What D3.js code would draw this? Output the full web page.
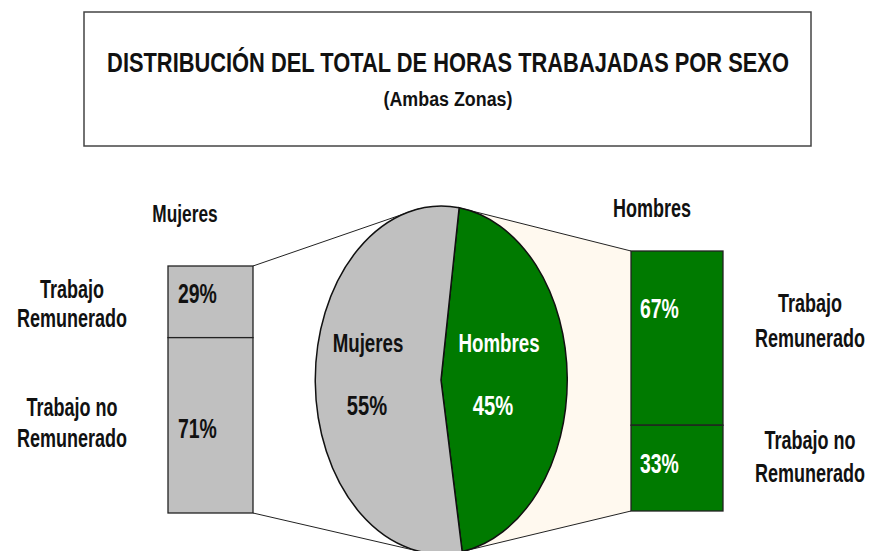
<!DOCTYPE html>
<html>
<head>
<meta charset="utf-8">
<script src="https://cdn.jsdelivr.net/npm/d3@7"></script>
<style>
  body { margin: 0; background: #fff; }
  svg text { font-family: "Liberation Sans", Arial, sans-serif; font-weight: bold; }
</style>
</head>
<body>
<svg width="870" height="551"></svg>
<script>
// data
const sexes = ["Hombres", "Mujeres"];
const shares = [45, 55];
const workTypes = [["Trabajo", "Remunerado"], ["Trabajo no", "Remunerado"]];
const mujeresSplit = [29, 71];
const hombresSplit = [67, 33];

const svg = d3.select("svg");

// squeezed bold text, the picture uses a very narrow face
function label(x, y, txt, size, anchor, fill) {
	return svg.append("text")
		.attr("transform", `translate(${x},${y}) scale(0.72,1)`)
		.attr("text-anchor", anchor || "middle")
		.attr("font-size", size)
		.attr("fill", fill || "#111")
		.text(txt);
}

// text squeezed to a given width
function fitted(x, y, txt, size, width) {
	const t = svg.append("text")
		.attr("text-anchor", "middle")
		.attr("font-size", size)
		.attr("fill", "#111")
		.text(txt);
	const s = width / t.node().getComputedTextLength();
	t.attr("transform", `translate(${x},${y}) scale(${s},1)`);
	return t;
}

// title box
svg.append("rect")
	.attr("x", 84).attr("y", 12)
	.attr("width", 727).attr("height", 134)
	.attr("fill", "#fff")
	.attr("stroke", "#444")
	.attr("stroke-width", 1.5);

fitted(448, 72, "DISTRIBUCIÓN DEL TOTAL DE HORAS TRABAJADAS POR SEXO", 28, 682);
fitted(448, 106, "(Ambas Zonas)", 21, 129);

// pie (stretched into an ellipse)
const cx = 441, cy = 380, rx = 126, ry = 174;
const start = 8.3 * Math.PI / 180;

const pie = d3.pie().sort(null)
	.startAngle(start)
	.endAngle(start + 2 * Math.PI);
const slices = pie(shares);

function onEllipse(a) {
	return [cx + rx * Math.sin(a), cy - ry * Math.cos(a)];
}

const colors = d3.scaleOrdinal().domain(sexes).range(["#007a00", "#c0c0c0"]);

// bars
const barW = { left: [168, 253], right: [631, 723] };
const yLeft = d3.scaleLinear().domain([0, 100]).range([266, 513]);
const yRight = d3.scaleLinear().domain([0, 100]).range([251, 511]);

// connector area on the hombres side
const hStart = onEllipse(slices[0].startAngle);
const hEnd = onEllipse(slices[0].endAngle);
svg.append("polygon")
	.attr("points", [hStart, [barW.right[0], yRight(0)], [barW.right[0], yRight(100)], hEnd].map(p => p.join(",")).join(" "))
	.attr("fill", "#fff9ef")
	.attr("stroke", "none");
svg.append("line")
	.attr("x1", hStart[0]).attr("y1", hStart[1])
	.attr("x2", barW.right[0]).attr("y2", yRight(0))
	.attr("stroke", "#222");
svg.append("line")
	.attr("x1", hEnd[0]).attr("y1", hEnd[1])
	.attr("x2", barW.right[0]).attr("y2", yRight(100))
	.attr("stroke", "#222");

// connector lines on the mujeres side
const mTop = onEllipse(-10 * Math.PI / 180);
const mBot = onEllipse(188 * Math.PI / 180);
svg.append("line")
	.attr("x1", barW.left[1]).attr("y1", yLeft(0))
	.attr("x2", mTop[0]).attr("y2", mTop[1])
	.attr("stroke", "#222");
svg.append("line")
	.attr("x1", barW.left[1]).attr("y1", yLeft(100))
	.attr("x2", mBot[0]).attr("y2", mBot[1])
	.attr("stroke", "#222");

const arc = d3.arc().innerRadius(0).outerRadius(1);
const pieG = svg.append("g")
	.attr("transform", `translate(${cx},${cy}) scale(${rx},${ry})`);
pieG.selectAll("path")
	.data(slices)
	.join("path")
	.attr("d", arc)
	.attr("fill", (d, i) => colors(sexes[i]))
	.attr("stroke", "#111")
	.attr("stroke-width", 1.5)
	.attr("vector-effect", "non-scaling-stroke");

// pie labels
const pieLabelPos = { Mujeres: [368, 352, 367, 415], Hombres: [499, 352, 493, 415] };
sexes.forEach((s, i) => {
	const p = pieLabelPos[s];
	const fill = s === "Hombres" ? "#fff" : "#111";
	label(p[0], p[1], s, 26, "middle", fill);
	label(p[2], p[3], shares[i] + "%", 28, "middle", fill);
});

// stacked bars
function drawBar(split, xs, y, fill) {
	let acc = 0;
	split.forEach(v => {
		const y0 = y(acc), y1 = y(acc + v);
		svg.append("rect")
			.attr("x", xs[0]).attr("y", y0)
			.attr("width", xs[1] - xs[0]).attr("height", y1 - y0)
			.attr("fill", fill)
			.attr("stroke", "#222")
			.attr("stroke-width", 1.3);
		acc += v;
	});
}
drawBar(mujeresSplit, barW.left, yLeft, "#c0c0c0");
drawBar(hombresSplit, barW.right, yRight, "#007a00");

const valLeftY = [303, 438];
mujeresSplit.forEach((v, i) => label(178, valLeftY[i], v + "%", 27, "start"));
const valRightY = [318, 473];
hombresSplit.forEach((v, i) => label(640, valRightY[i], v + "%", 27, "start", "#fff"));

// group headings
label(185, 222, "Mujeres", 24);
label(652, 217, "Hombres", 25);

// work type labels
const leftLabelY = [[298, 327], [416, 447]];
const rightLabelY = [[312, 347], [449, 482]];
workTypes.forEach((lines, i) => {
	lines.forEach((t, j) => {
		label(72, leftLabelY[i][j], t, 25);
		label(810, rightLabelY[i][j], t, 25);
	});
});
</script>
</body>
</html>
